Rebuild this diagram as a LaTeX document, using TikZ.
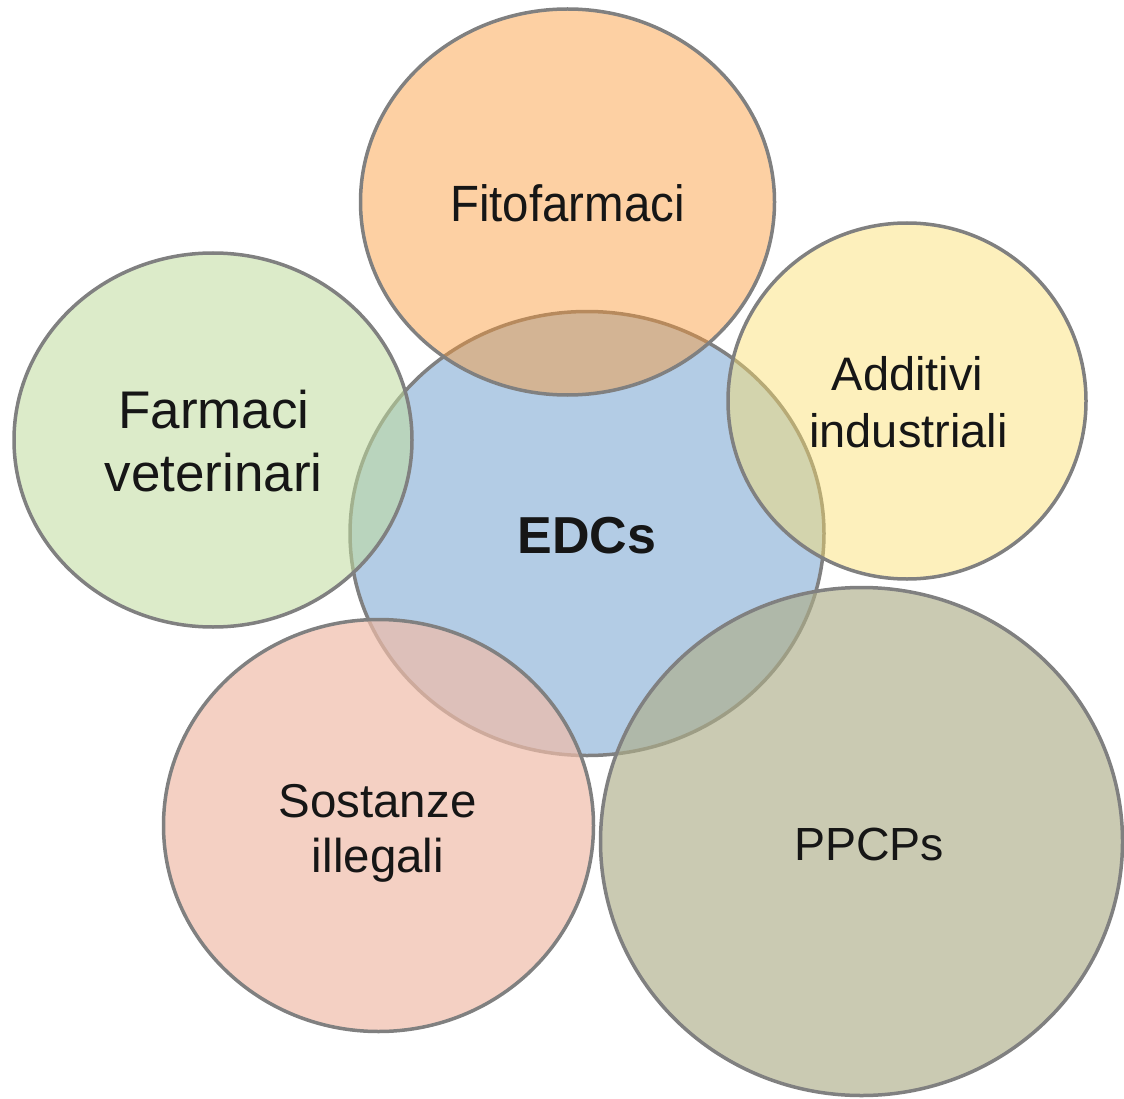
\documentclass[tikz,border=0pt]{standalone}
\usepackage{fontspec}
\setmainfont{Liberation Sans}
\newfontfamily\narrowsans{Liberation Sans}[FakeStretch=0.93]
\definecolor{edgegray}{RGB}{128,128,128}
\definecolor{edcblue}{RGB}{179,204,229}
\definecolor{fitoC}{RGB}{251,151,51}
\definecolor{vetC}{RGB}{191,219,157}
\definecolor{addC}{RGB}{251,222,106}
\definecolor{sostC}{RGB}{239,188,169}
\definecolor{ppcpC}{RGB}{174,174,137}
\definecolor{txt}{RGB}{22,22,22}
\tikzset{
  bubble/.style={draw=edgegray, line width=3.5pt},
  lbl/.style={anchor=base, inner sep=0pt, text=txt}
}
\begin{document}
\begin{tikzpicture}[x=1pt,y=-1pt]
\useasboundingbox (0,0) rectangle (1124,1099);
% central circle
\draw[bubble, fill=edcblue] (587,533.5) ellipse [x radius=237, y radius=222];
% outer circles
\draw[bubble, fill=fitoC, fill opacity=0.45] (567.5,202) ellipse [x radius=207, y radius=193];
\draw[bubble, fill=vetC, fill opacity=0.55] (213,440) ellipse [x radius=199, y radius=187];
\draw[bubble, fill=addC, fill opacity=0.45] (907,401) ellipse [x radius=179, y radius=178];
\draw[bubble, fill=sostC, fill opacity=0.7] (378.5,825.5) ellipse [x radius=215, y radius=206];
\draw[bubble, fill=ppcpC, fill opacity=0.65] (861.5,841.5) ellipse [x radius=261, y radius=254];
% labels
\node[lbl, font=\narrowsans\fontsize{51}{60}\selectfont] (fito) at (567.5,222) {Fitofarmaci};
\node[lbl, font=\fontsize{53}{62}\selectfont] (vet1) at (214,428) {Farmaci};
\node[lbl, font=\fontsize{53}{62}\selectfont] (vet2) at (213.5,491) {veterinari};
\node[lbl, font=\fontsize{47}{56}\selectfont] (add1) at (907.5,390) {Additivi};
\node[lbl, font=\fontsize{47}{56}\selectfont] (add2) at (908.5,447) {industriali};
\node[lbl, font=\fontsize{47.5}{56}\selectfont] (sost1) at (377.5,817) {Sostanze};
\node[lbl, font=\fontsize{47.5}{56}\selectfont] (sost2) at (378,872) {illegali};
\node[lbl, font=\fontsize{46.5}{56}\selectfont] (ppcp) at (869,860) {PPCPs};
\node[lbl, font=\bfseries\fontsize{52}{60}\selectfont] (edc) at (587,553) {EDCs};
\end{tikzpicture}
\end{document}
